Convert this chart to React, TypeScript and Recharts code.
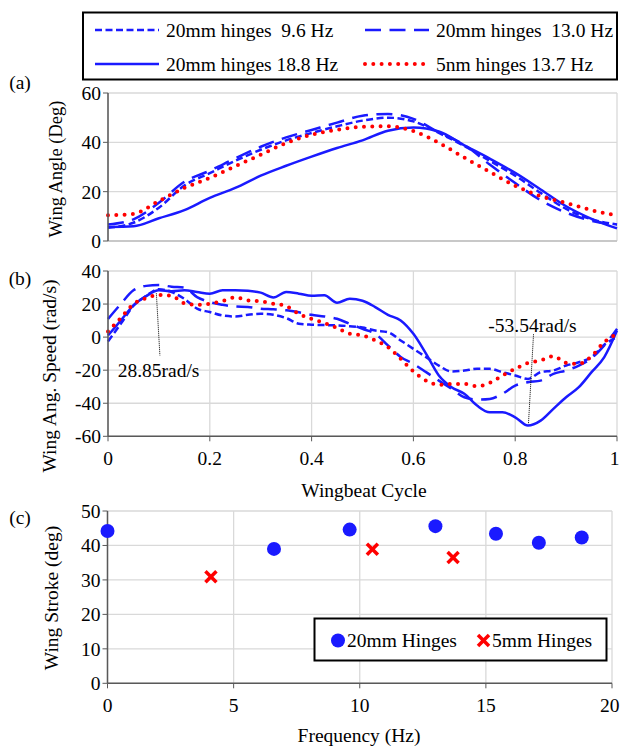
import React from "react";
import {
  LineChart,
  Line,
  XAxis,
  YAxis,
  CartesianGrid,
  ReferenceLine,
  ReferenceDot,
  ScatterChart,
  Scatter,
} from "recharts";

// (a) wing angle over one wingbeat
const cycleA = [0, 0.05, 0.1, 0.15, 0.2, 0.25, 0.3, 0.35, 0.4, 0.45, 0.5, 0.55, 0.6, 0.65, 0.7, 0.75, 0.8, 0.85, 0.9, 0.95, 1];
const angle96 = [5.4, 7.4, 13.5, 22.5, 27.5, 32.5, 37, 40.8, 43.8, 46.5, 48.8, 50, 48.5, 43.8, 38.5, 32.5, 26.5, 19.5, 13, 8.8, 6.7];
const angle130 = [6.7, 8.8, 15.5, 24, 28.5, 33.5, 38.2, 42, 45, 48, 50.8, 51.5, 49.5, 44, 39, 31, 23.5, 16.5, 11.5, 8.2, 6.5];
const angle188 = [5.7, 6, 9.2, 12.5, 17.5, 21.5, 26.5, 30.5, 34.2, 37.7, 40.8, 44.7, 46, 44.4, 38.8, 33.4, 27.6, 20.9, 14.1, 9, 5.1];
const angle5nm = [10.4, 11, 16.2, 21.5, 25.6, 30.3, 35, 39.7, 43.1, 45.1, 46.3, 46.5, 44.6, 39.8, 33.8, 28, 22.4, 18.2, 15.4, 12.5, 10.3];

// (b) wing angular speed
const cycleB = [
  0, 0.025, 0.05, 0.075, 0.1, 0.125, 0.15, 0.175, 0.2, 0.225, 0.25, 0.275, 0.3, 0.325, 0.35, 0.375, 0.4, 0.425, 0.45, 0.475, 0.5,
  0.525, 0.55, 0.575, 0.6, 0.625, 0.65, 0.675, 0.7, 0.725, 0.75, 0.775, 0.8, 0.825, 0.85, 0.875, 0.9, 0.925, 0.95, 0.975, 1,
];
const speed96 = [
  -2.6, 8, 19, 25, 29, 27.3, 23.2, 17.2, 15.2, 13.1, 12.5, 13.5, 14.1, 13.5, 11.5, 8.1, 7.5, 7.3, 7.1, 6.6, 5.8,
  4, 3, -2, -7.1, -12.1, -17.2, -20.8, -20.2, -19.2, -19.2, -21.2, -23.2, -25.3, -21.2, -20.2, -17.2, -15.2, -12.1, -4.6, 0,
];
const speed130 = [
  11, 20, 28.3, 31, 31.5, 30.5, 30, 24.2, 21.2, 19.6, 18.5, 18.2, 17.2, 16.8, 16.2, 15, 13.5, 12.5, 11.1, 8, 5,
  2, -5, -12, -16.2, -21.2, -26.3, -31.3, -36.4, -37.8, -37.4, -34.3, -29.3, -27.3, -26.3, -22.2, -20.2, -17.2, -12.7, -5, 5,
];
const speed188 = [
  1, 10, 19.2, 24.8, 28.3, 27.7, 28.3, 27.3, 26.3, 28.3, 28.3, 28, 26.9, 24, 27.3, 26.3, 25, 25.3, 20.8, 23.2, 22,
  18.2, 13.5, 10.1, 2, -10.1, -23.2, -30.3, -34.3, -41.4, -45.5, -45.5, -48.5, -53.5, -50.5, -43.4, -36.4, -30.3, -21.2, -12.1, 4,
];
const speed5nm = [
  3.4, 11.5, 20, 23.6, 25.5, 25, 20.5, 19.6, 20.2, 21.8, 24, 22.2, 21.6, 20.2, 18.8, 14, 11, 8.5, 5.5, 2, 1,
  -2, -6, -13.1, -20.8, -26.3, -28.9, -28.3, -28.3, -29.7, -27.7, -23.2, -19.2, -15.6, -14.1, -11.5, -15.6, -16.2, -11.5, -3, 2,
];

// (c) wing stroke vs flapping frequency
const freq20mm = [0, 6.6, 9.6, 13.0, 15.4, 17.1, 18.8];
const stroke20mm = [44.2, 39.0, 44.6, 45.6, 43.4, 40.8, 42.3];
const freq5mm = [4.1, 10.5, 13.7];
const stroke5mm = [30.9, 38.9, 36.5];

const cycleTicks = [0, 0.2, 0.4, 0.6, 0.8, 1];
const angleTicks = [0, 20, 40, 60];
const speedTicks = [-60, -40, -20, 0, 20, 40];
const freqTicks = [0, 5, 10, 15, 20];
const strokeTicks = [0, 10, 20, 30, 40, 50];

const FONT = '"Liberation Serif", "Times New Roman", serif';
const BLUE = "#1a1aff";
const RED = "#ff0000";
const GRID = "#d9d9d9";
const AXIS = "#595959";

const series = [
  { key: "s96", name: "20mm hinges  9.6 Hz", color: BLUE, width: 2.5, dash: "7 3.5", cap: "butt" },
  { key: "s130", name: "20mm hinges  13.0 Hz", color: BLUE, width: 2.5, dash: "16 8.5", cap: "butt" },
  { key: "s188", name: "20mm hinges 18.8 Hz", color: BLUE, width: 2.5, dash: undefined, cap: "butt" },
  { key: "s5", name: "5nm hinges 13.7 Hz", color: RED, width: 4, dash: "0 8.3", cap: "round" },
];

const rowsA = cycleA.map((c, i) => ({ c, s96: angle96[i], s130: angle130[i], s188: angle188[i], s5: angle5nm[i] }));
const rowsB = cycleB.map((c, i) => ({ c, s96: speed96[i], s130: speed130[i], s188: speed188[i], s5: speed5nm[i] }));
const rows20 = freq20mm.map((f, i) => ({ f, s: stroke20mm[i] }));
const rows5 = freq5mm.map((f, i) => ({ f, s: stroke5mm[i] }));

const tickStyle = { fill: "#000", fontSize: 19.5, fontFamily: FONT };

// x tick that stays inside the page at the right edge
const EdgeTick = (p: any) => {
  const label = String(p.payload.value);
  const half = label.length * 4.9;
  const atEdge = p.x + half > 619;
  return (
    <text
      x={atEdge ? 619.5 : p.x}
      y={p.y}
      dy="0.71em"
      textAnchor={atEdge ? "end" : "middle"}
      fill="#000"
      fontSize={19.5}
      fontFamily={FONT}
    >
      {label}
    </text>
  );
};

const Circle = (p: any) => <circle cx={p.cx} cy={p.cy} r={7} fill={BLUE} />;
const Cross = (p: any) => {
  const s = 5.5;
  return (
    <g stroke={RED} strokeWidth={3.5}>
      <line x1={p.cx - s} y1={p.cy - s} x2={p.cx + s} y2={p.cy + s} />
      <line x1={p.cx - s} y1={p.cy + s} x2={p.cx + s} y2={p.cy - s} />
    </g>
  );
};

function lines() {
  return series.map((s) => (
    <Line
      key={s.key}
      type="monotone"
      dataKey={s.key}
      stroke={s.color}
      strokeWidth={s.width}
      strokeDasharray={s.dash}
      strokeLinecap={s.cap as any}
      dot={false}
      activeDot={false}
      isAnimationActive={false}
    />
  ));
}

function Overlay() {
  const txt = { fontFamily: FONT, fontSize: 19.5, fill: "#000" };
  return (
    <svg width={620} height={747} style={{ position: "absolute", left: 0, top: 0, pointerEvents: "none" }}>
      {/* top legend */}
      <rect x={83} y={12.5} width={534} height={67} fill="none" stroke="#000" strokeWidth={2} />
      {series.map((s, i) => {
        const x0 = i % 2 === 0 ? 95 : 365;
        const y = i < 2 ? 30 : 64;
        return (
          <g key={s.key}>
            <line x1={x0} y1={y} x2={x0 + 64} y2={y} stroke={s.color} strokeWidth={s.width} strokeDasharray={s.dash} strokeLinecap={s.cap as any} />
            <text x={x0 + 71} y={y} dominantBaseline="central" style={{ whiteSpace: "pre" }} {...txt}>
              {s.name}
            </text>
          </g>
        );
      })}
      {/* panel letters */}
      <text x={20} y={82} textAnchor="middle" dominantBaseline="central" {...txt}>(a)</text>
      <text x={20} y={278} textAnchor="middle" dominantBaseline="central" {...txt}>(b)</text>
      <text x={20} y={517} textAnchor="middle" dominantBaseline="central" {...txt}>(c)</text>
      {/* axis titles */}
      <text transform="translate(55.5,169) rotate(-90)" textAnchor="middle" dominantBaseline="central" {...txt} fontSize={18.5}>
        Wing Angle (Deg)
      </text>
      <text transform="translate(49.6,376) rotate(-90)" textAnchor="middle" dominantBaseline="central" {...txt}>
        Wing Ang. Speed (rad/s)
      </text>
      <text transform="translate(51.6,598) rotate(-90)" textAnchor="middle" dominantBaseline="central" {...txt}>
        Wing Stroke (deg)
      </text>
      <text x={364} y={490} textAnchor="middle" dominantBaseline="central" {...txt}>Wingbeat Cycle</text>
      <text x={359} y={735} textAnchor="middle" dominantBaseline="central" {...txt}>Frequency (Hz)</text>
      {/* legend of (c) */}
      <rect x={314.5} y={618.5} width={292} height={42} fill="#fff" stroke="#000" strokeWidth={2} />
      <Circle cx={338} cy={640.5} />
      <text x={347} y={640.5} dominantBaseline="central" {...txt}>20mm Hinges</text>
      <Cross cx={483.5} cy={640.5} />
      <text x={492} y={640.5} dominantBaseline="central" {...txt}>5mm Hinges</text>
    </svg>
  );
}

export default function App() {
  return (
    <div style={{ position: "absolute", left: 0, top: 0, width: 620, height: 747, background: "#fff", fontFamily: FONT }}>
      <style>{`.recharts-text, .recharts-label, .recharts-cartesian-axis-tick-value { font-family: ${FONT}; font-size: 19.5px; fill: #000; }`}</style>
      <div style={{ position: "absolute", left: 0, top: 0 }}>
        <LineChart width={620} height={262} data={rowsA} margin={{ top: 93, right: 3, bottom: 0, left: 0 }}>
          <CartesianGrid stroke={GRID} strokeWidth={1.3} />
          <XAxis dataKey="c" type="number" domain={[0, 1]} ticks={cycleTicks} tick={false} tickLine={false} height={21} axisLine={{ stroke: "#bfbfbf", strokeWidth: 1.3 }} />
          <YAxis type="number" domain={[0, 60]} ticks={angleTicks} interval={0} width={108} tick={tickStyle} tickSize={5} tickMargin={2} tickLine={{ stroke: AXIS }} axisLine={{ stroke: AXIS, strokeWidth: 1.5 }} />
          {lines()}
        </LineChart>
      </div>
      <div style={{ position: "absolute", left: 0, top: 250 }}>
        <LineChart width={620} height={250} data={rowsB} margin={{ top: 21, right: 3, bottom: 0, left: 0 }}>
          <CartesianGrid stroke={GRID} strokeWidth={1.3} />
          <XAxis dataKey="c" type="number" domain={[0, 1]} ticks={cycleTicks} interval={0} height={63.7} tick={EdgeTick} tickSize={5} tickMargin={9.5} tickLine={{ stroke: AXIS }} axisLine={{ stroke: AXIS, strokeWidth: 1.5 }} />
          <YAxis type="number" domain={[-60, 40]} ticks={speedTicks} interval={0} width={108} tick={tickStyle} tickSize={5} tickMargin={2} tickLine={{ stroke: AXIS }} axisLine={{ stroke: AXIS, strokeWidth: 1.5 }} />
          {lines()}
          <ReferenceLine segment={[{ x: 0.095, y: 26.5 }, { x: 0.102, y: -11.2 }]} stroke="#000" strokeWidth={1} strokeDasharray="1 1" />
          <ReferenceLine segment={[{ x: 0.836, y: 1.7 }, { x: 0.826, y: -52.7 }]} stroke="#000" strokeWidth={1} strokeDasharray="1 1" />
          <ReferenceDot x={0.019} y={-20} r={0} fill="none" stroke="none" label={{ value: "28.85rad/s", position: "right", offset: 0, ...tickStyle }} />
          <ReferenceDot x={0.834} y={7.3} r={0} fill="none" stroke="none" label={{ value: "-53.54rad/s", position: "center", ...tickStyle }} />
        </LineChart>
      </div>
      <div style={{ position: "absolute", left: 0, top: 500 }}>
        <ScatterChart width={620} height={247} margin={{ top: 11, right: 8, bottom: 0, left: 0 }}>
          <CartesianGrid stroke={GRID} strokeWidth={1.3} />
          <XAxis dataKey="f" type="number" domain={[0, 20]} ticks={freqTicks} interval={0} height={63.7} tick={EdgeTick} tickSize={5} tickMargin={9.5} tickLine={{ stroke: AXIS }} axisLine={{ stroke: AXIS, strokeWidth: 1.5 }} />
          <YAxis dataKey="s" type="number" domain={[0, 50]} ticks={strokeTicks} interval={0} width={107.5} tick={tickStyle} tickSize={5} tickMargin={2} tickLine={{ stroke: AXIS }} axisLine={{ stroke: AXIS, strokeWidth: 1.5 }} />
          <Scatter name="20mm Hinges" data={rows20} shape={Circle} isAnimationActive={false} />
          <Scatter name="5mm Hinges" data={rows5} shape={Cross} isAnimationActive={false} />
        </ScatterChart>
      </div>
      <Overlay />
    </div>
  );
}
